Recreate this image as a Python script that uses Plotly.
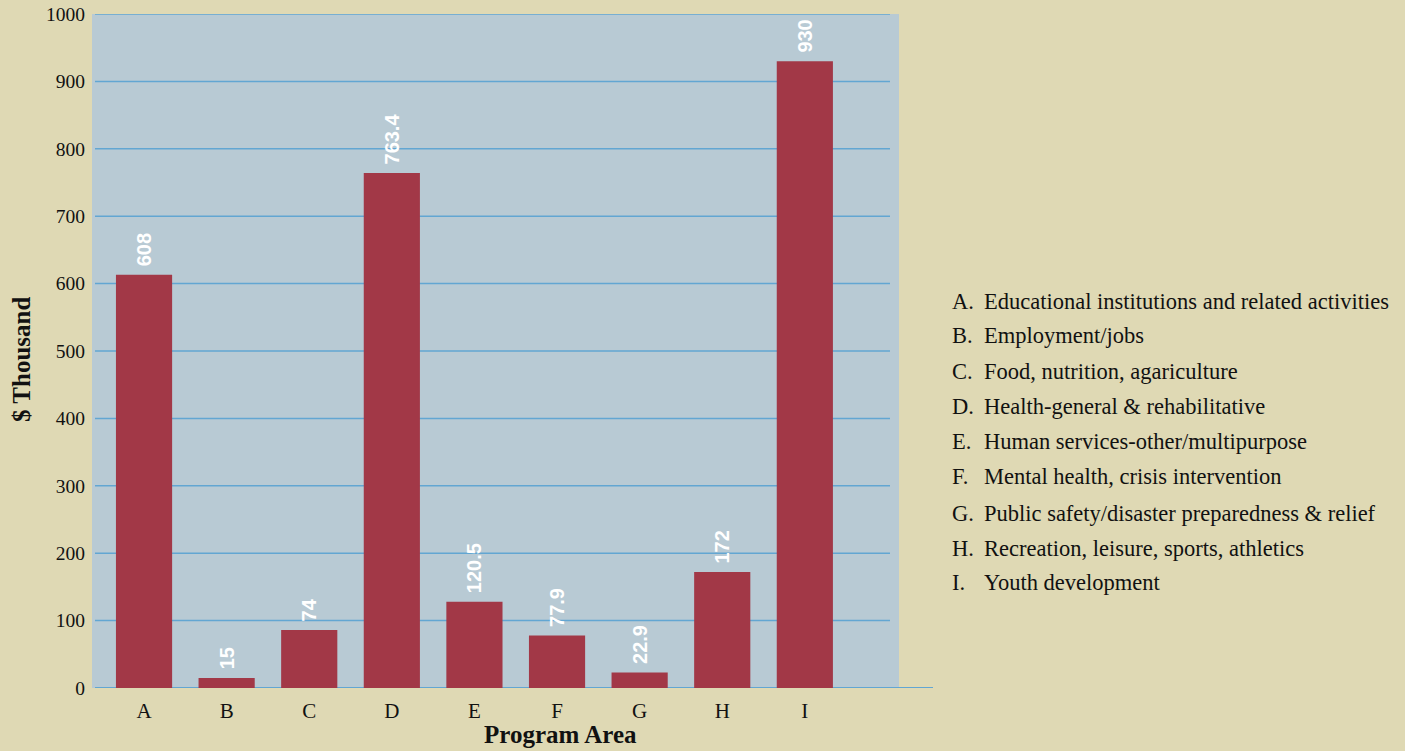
import plotly.graph_objects as go

# ---- data ----
categories = ["A", "B", "C", "D", "E", "F", "G", "H", "I"]
bar_heights = [613, 15, 86, 764, 128, 77.9, 23, 172, 930]
value_labels = ["608", "15", "74", "763.4", "120.5", "77.9", "22.9", "172", "930"]
descriptions = [
    "Educational institutions and related activities",
    "Employment/jobs",
    "Food, nutrition, agariculture",
    "Health-general & rehabilitative",
    "Human services-other/multipurpose",
    "Mental health, crisis intervention",
    "Public safety/disaster preparedness & relief",
    "Recreation, leisure, sports, athletics",
    "Youth development",
]
legend_letters = ["A.", "B.", "C.", "D.", "E.", "F.", "G.", "H.", "I."]
y_ticks = [0, 100, 200, 300, 400, 500, 600, 700, 800, 900, 1000]

PAPER = "#dfd9b4"
PLOT_BG = "#b8cad4"
BAR = "#a23847"
GRID = "#62a6d2"
SERIF = "Liberation Serif, DejaVu Serif, serif"
SANS = "Liberation Sans, Arial, sans-serif"

W, H = 1405, 751
ML, MR, MT, MB = 92, 506, 14, 63
pw = W - ML - MR
ph = H - MT - MB


def px_x(px):
    return (px - ML) / pw


def px_y(py):
    return (H - MB - py) / ph


fig = go.Figure()
fig.add_trace(go.Bar(
    x=categories,
    y=bar_heights,
    text=value_labels,
    texttemplate="\u00a0%{text}",
    textposition="outside",
    textangle=-90,
    constraintext="none",
    cliponaxis=False,
    textfont=dict(family=SANS, size=20, color="white", weight="bold"),
    marker=dict(color=BAR, line=dict(width=0)),
    hoverinfo="skip",
))

fig.update_layout(
    width=W, height=H,
    autosize=False,
    margin=dict(l=ML, r=MR, t=MT, b=MB, pad=0, autoexpand=False),
    paper_bgcolor=PAPER,
    plot_bgcolor=PLOT_BG,
    showlegend=False,
    bargap=0.32,
    xaxis=dict(
        range=[-0.63, 9.14],
        automargin=False,
        showgrid=False, zeroline=False, showline=False,
        ticks="", tickfont=dict(family=SERIF, size=21, color="#111"),
        ticklabelstandoff=8,
        fixedrange=True,
    ),
    yaxis=dict(
        range=[0, 1000],
        automargin=False,
        tickvals=y_ticks,
        showgrid=False,
        zeroline=False, showline=False, ticks="",
        tickfont=dict(family=SERIF, size=19.5, color="#111"),
        ticklabelstandoff=6,
        fixedrange=True,
    ),
)

# axis titles
fig.add_annotation(xref="paper", yref="paper", x=px_x(560), y=px_y(750),
                   text="Program Area", showarrow=False, xanchor="center", yanchor="bottom",
                   font=dict(family=SERIF, size=25, color="#111", weight="bold"))
fig.add_annotation(xref="paper", yref="paper", x=px_x(21), y=px_y(360),
                   text="$ Thousand", showarrow=False, textangle=-90,
                   xanchor="center", yanchor="middle",
                   font=dict(family=SERIF, size=25, color="#111", weight="bold"))

# horizontal gridlines (slightly inset from the plot background) and the
# zero baseline that runs past the background on the right
for v in y_ticks:
    x_end = 933 if v == 0 else 890
    fig.add_shape(type="line", xref="paper", yref="y",
                  x0=px_x(95), x1=px_x(x_end), y0=v, y1=v,
                  line=dict(color=GRID, width=2 if v == 0 else 1.5), layer="below")

# category key on the right
row_y = [301, 336, 371, 406, 441, 476, 513, 548, 582]
for letter, desc, py in zip(legend_letters, descriptions, row_y):
    fig.add_annotation(xref="paper", yref="paper", x=px_x(950), y=px_y(py),
                       text=letter, showarrow=False, xanchor="left", yanchor="middle",
                       font=dict(family=SERIF, size=22.5, color="#111"))
    fig.add_annotation(xref="paper", yref="paper", x=px_x(982), y=px_y(py),
                       text=desc, showarrow=False, xanchor="left", yanchor="middle",
                       font=dict(family=SERIF, size=22.5, color="#111"))

fig.write_html(
    "out.html",
    config={"displayModeBar": False},
    post_script="document.body.style.margin='0';document.body.style.background='#dfd9b4';",
)
